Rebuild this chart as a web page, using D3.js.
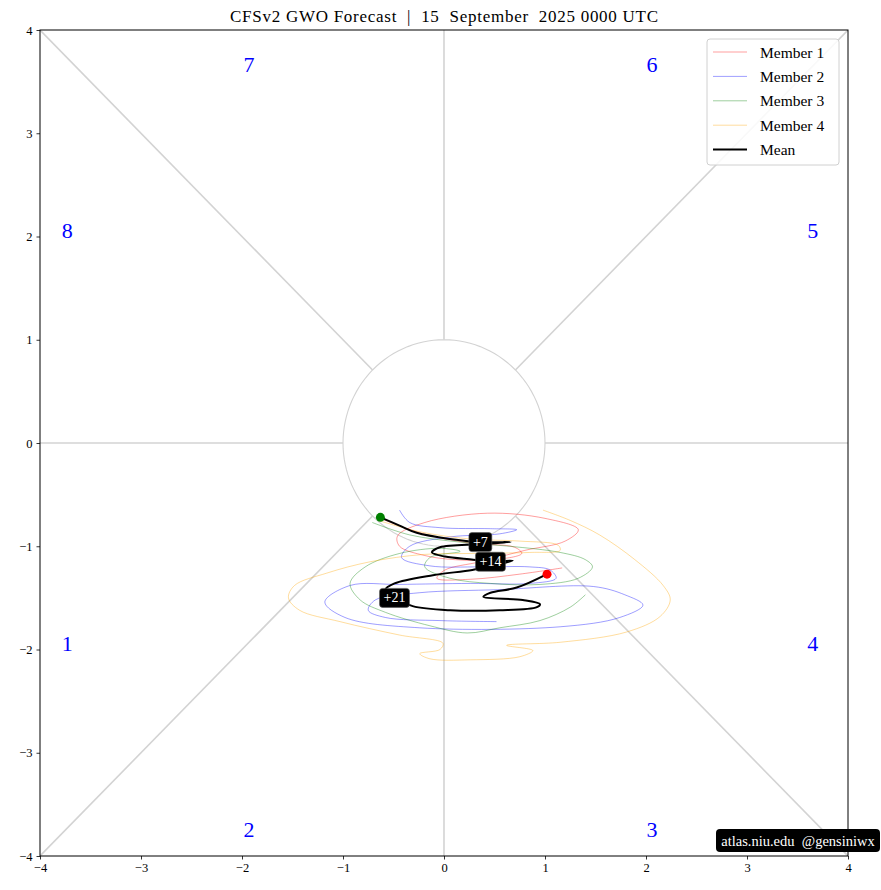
<!DOCTYPE html>
<html>
<head>
<meta charset="utf-8">
<script src="https://cdn.jsdelivr.net/npm/d3@7"></script>
<style>
  html, body { margin: 0; padding: 0; background: #fff; }
  svg text { font-family: "Liberation Serif", "DejaVu Serif", serif; }
</style>
</head>
<body>
<div id="chart"></div>
<script>
// ---------- data ----------
const titleText = "CFSv2 GWO Forecast  |  15  September  2025 0000 UTC";
const tickValues = [-4, -3, -2, -1, 0, 1, 2, 3, 4];

const phaseLabels = ["1", "2", "3", "4", "5", "6", "7", "8"];
const phaseX = [-3.73, -1.93, 2.06, 3.65, 3.65, 2.06, -1.93, -3.73];
const phaseY = [-1.94, -3.74, -3.74, -1.94, 2.06, 3.67, 3.67, 2.06];

const memberNames = ["Member 1", "Member 2", "Member 3", "Member 4"];
const memberColors = ["red", "blue", "green", "orange"];

const m1x = [-0.63, -0.24, 0.26, 0.70, 0.77, 0.50, 0.11, -0.19, -0.44, -0.46, -0.19, 0.43, 1.00, 1.33, 1.20, 0.80, 0.36, 0.01, -0.07, 0.26, 0.75, 1.17];
const m1y = [-0.73, -0.87, -0.97, -1.01, -1.07, -1.13, -1.13, -1.09, -1.00, -0.90, -0.77, -0.68, -0.73, -0.84, -0.95, -1.04, -1.15, -1.23, -1.31, -1.32, -1.27, -1.21];

const m2x = [-0.44, -0.34, -0.04, 0.46, 0.72, 0.55, 0.06, -0.34, -0.42, -0.14, 0.36, 0.85, 1.05, 1.11, 0.85, 0.26, -0.44, -0.93, -1.18, -0.98, -0.24, 1.15, 1.74, 1.97, 1.79, 1.48, 0.55, -0.24, -0.68, -0.75, -0.58, -0.04, 0.52];
const m2y = [-0.65, -0.77, -0.82, -0.83, -0.84, -0.88, -0.91, -1.00, -1.11, -1.19, -1.20, -1.20, -1.23, -1.31, -1.36, -1.36, -1.37, -1.38, -1.54, -1.69, -1.79, -1.78, -1.69, -1.57, -1.47, -1.39, -1.42, -1.45, -1.52, -1.62, -1.69, -1.72, -1.73];

const m3x = [-0.71, -0.34, 0.16, 0.65, 1.15, 1.40, 1.47, 1.33, 0.95, 0.46, 0.06, -0.19, -0.14, 0.16, -0.04, -0.44, -0.78, -0.93, -0.83, -0.58, -0.14, 0.23, 0.55, 0.95, 1.25, 1.40];
const m3y = [-0.77, -0.89, -0.96, -1.00, -1.06, -1.13, -1.20, -1.31, -1.37, -1.36, -1.31, -1.20, -1.11, -1.05, -1.02, -1.07, -1.20, -1.36, -1.52, -1.64, -1.77, -1.84, -1.79, -1.72, -1.59, -1.47];

const m4x = [-0.65, -0.24, 0.26, 0.75, 1.13, 1.15, 0.85, 0.26, -0.21, -0.73, -1.16, -1.48, -1.54, -1.43, -1.03, -0.44, -0.01, -0.04, -0.24, -0.14, 0.26, 0.75, 0.88, 0.62, 1.15, 1.81, 2.14, 2.24, 2.17, 1.89, 1.54, 1.25, 0.98];
const m4y = [-0.75, -0.86, -0.93, -0.95, -0.99, -1.04, -1.06, -1.07, -1.08, -1.15, -1.26, -1.38, -1.50, -1.62, -1.73, -1.86, -1.94, -2.00, -2.04, -2.09, -2.10, -2.07, -2.01, -1.96, -1.93, -1.83, -1.68, -1.52, -1.38, -1.13, -0.89, -0.75, -0.65];

const meanX = [-0.63, -0.44, -0.27, 0.06, 0.36, 0.66, 0.36, -0.04, -0.12, 0.01, 0.29, 0.46, 0.68, 0.46, 0.28, -0.11, -0.49, -0.58, -0.49, -0.31, 0.06, 0.55, 0.92, 0.95, 0.78, 0.39, 0.46, 0.72, 1.02];
const meanY = [-0.72, -0.80, -0.87, -0.93, -0.96, -0.96, -0.98, -1.01, -1.06, -1.10, -1.13, -1.15, -1.14, -1.19, -1.23, -1.28, -1.36, -1.42, -1.50, -1.58, -1.62, -1.62, -1.59, -1.56, -1.52, -1.49, -1.45, -1.40, -1.27];

const dayLabels = ["+7", "+14", "+21"];
const dayLabelIndex = [4, 11, 18];

const watermark = "atlas.niu.edu  @gensiniwx";

// ---------- layout ----------
const W = 881, H = 890;
const M = { left: 40, right: 33, top: 30, bottom: 34 };

const svg = d3.select("#chart").append("svg")
  .attr("width", W).attr("height", H);

const x = d3.scaleLinear().domain([-4, 4]).range([M.left, W - M.right]);
const y = d3.scaleLinear().domain([-4, 4]).range([H - M.bottom, M.top]);

svg.append("defs").append("clipPath").attr("id", "plotclip")
  .append("rect").attr("x", x(-4)).attr("y", y(4))
  .attr("width", x(4) - x(-4)).attr("height", y(-4) - y(4));

const plot = svg.append("g").attr("clip-path", "url(#plotclip)");

// grid lines: axes and diagonals outside unit circle
const gridColor = "#d3d3d3";
const r45 = Math.SQRT1_2;
const segs = [
  [[-4, 0], [-1, 0]], [[1, 0], [4, 0]],
  [[0, -4], [0, -1]], [[0, 1], [0, 4]],
  [[-4, -4], [-r45, -r45]], [[r45, r45], [4, 4]],
  [[-4, 4], [-r45, r45]], [[r45, -r45], [4, -4]]
];
plot.selectAll("line.grid").data(segs).join("line")
  .attr("class", "grid")
  .attr("x1", d => x(d[0][0])).attr("y1", d => y(d[0][1]))
  .attr("x2", d => x(d[1][0])).attr("y2", d => y(d[1][1]))
  .attr("stroke", gridColor).attr("stroke-width", 1.6);

const circ = d3.range(0, 361, 3).map(a => [Math.cos(a * Math.PI / 180), Math.sin(a * Math.PI / 180)]);
plot.append("path")
  .attr("d", d3.line().x(d => x(d[0])).y(d => y(d[1]))(circ))
  .attr("fill", "none").attr("stroke", gridColor).attr("stroke-width", 1.1);

// phase numbers
plot.selectAll("text.phase").data(phaseLabels).join("text")
  .attr("class", "phase")
  .attr("x", (d, i) => x(phaseX[i])).attr("y", (d, i) => y(phaseY[i]))
  .attr("text-anchor", "middle").attr("dominant-baseline", "central")
  .attr("fill", "blue").attr("font-size", 22)
  .text(d => d);

// members
const members = [[m1x, m1y], [m2x, m2y], [m3x, m3y], [m4x, m4y]];
const line = d3.line().x(d => x(d[0])).y(d => y(d[1])).curve(d3.curveCatmullRom.alpha(0.5));
members.forEach((m, k) => {
  const pts = m[0].map((v, i) => [v, m[1][i]]);
  plot.append("path")
    .attr("d", line(pts))
    .attr("fill", "none")
    .attr("stroke", memberColors[k])
    .attr("stroke-opacity", 0.45)
    .attr("stroke-width", 0.85);
});

// mean
const meanPts = meanX.map((v, i) => [v, meanY[i]]);
plot.append("path")
  .attr("d", line(meanPts))
  .attr("fill", "none").attr("stroke", "black").attr("stroke-width", 2);

// start / end dots
plot.append("circle")
  .attr("cx", x(meanX[0])).attr("cy", y(meanY[0])).attr("r", 4.5).attr("fill", "green");
plot.append("circle")
  .attr("cx", x(meanX[meanX.length - 1])).attr("cy", y(meanY[meanY.length - 1])).attr("r", 4.5).attr("fill", "red");

// day labels
const dl = plot.selectAll("g.day").data(dayLabels).join("g")
  .attr("class", "day")
  .attr("transform", (d, i) => `translate(${x(meanX[dayLabelIndex[i]])},${y(meanY[dayLabelIndex[i]])})`);
dl.each(function(d) {
  const g = d3.select(this);
  const t = g.append("text").attr("text-anchor", "middle").attr("dominant-baseline", "central")
    .attr("fill", "white").attr("font-size", 14).text(d);
  const bb = t.node().getBBox();
  g.insert("rect", "text")
    .attr("x", bb.x - 4).attr("y", -9.5).attr("width", bb.width + 8).attr("height", 19)
    .attr("rx", 3).attr("fill", "black").attr("stroke", "#555").attr("stroke-width", 0.6);
});

// axes
const fmt = v => (v < 0 ? "\u2212" + Math.abs(v) : String(v));
const xAxis = svg.append("g").attr("transform", `translate(0,${y(-4)})`)
  .call(d3.axisBottom(x).tickValues(tickValues).tickFormat(fmt).tickSize(3.5).tickPadding(4));
const yAxis = svg.append("g").attr("transform", `translate(${x(-4)},0)`)
  .call(d3.axisLeft(y).tickValues(tickValues).tickFormat(fmt).tickSize(3.5).tickPadding(4));
[xAxis, yAxis].forEach(a => {
  a.select(".domain").remove();
  a.selectAll("text").attr("font-family", "Liberation Serif, serif").attr("font-size", 12.5).attr("fill", "black");
  a.selectAll("line").attr("stroke", "black").attr("stroke-width", 0.8);
});
svg.append("rect")
  .attr("x", x(-4)).attr("y", y(4)).attr("width", x(4) - x(-4)).attr("height", y(-4) - y(4))
  .attr("fill", "none").attr("stroke", "black").attr("stroke-width", 1);

// title
svg.append("text")
  .attr("x", (x(-4) + x(4)) / 2).attr("y", 22)
  .attr("text-anchor", "middle").attr("font-size", 17)
  .attr("textLength", 428).attr("lengthAdjust", "spacing")
  .style("white-space", "pre")
  .text(titleText);

// legend
const lg = svg.append("g").attr("transform", "translate(707,39)");
lg.append("rect").attr("width", 132).attr("height", 126).attr("rx", 3)
  .attr("fill", "white").attr("fill-opacity", 0.85)
  .attr("stroke", "#d0d0d0").attr("stroke-width", 1);
const legNames = memberNames.concat(["Mean"]);
const legColors = memberColors.concat(["black"]);
legNames.forEach((n, i) => {
  const yy = 13 + i * 24.4;
  lg.append("line").attr("x1", 6).attr("x2", 40).attr("y1", yy).attr("y2", yy)
    .attr("stroke", legColors[i])
    .attr("stroke-opacity", i < 4 ? 0.45 : 1)
    .attr("stroke-width", i < 4 ? 0.85 : 2);
  lg.append("text").attr("x", 53).attr("y", yy).attr("dominant-baseline", "central")
    .attr("font-size", 15.5).text(n);
});

// watermark
const wm = svg.append("g").attr("transform", "translate(716,829)");
wm.append("rect").attr("width", 164).attr("height", 23).attr("rx", 4).attr("fill", "black");
wm.append("text").attr("x", 82).attr("y", 12).attr("text-anchor", "middle").attr("dominant-baseline", "central")
  .attr("fill", "white").attr("font-size", 14.5).style("white-space", "pre").text(watermark);
</script>
</body>
</html>
